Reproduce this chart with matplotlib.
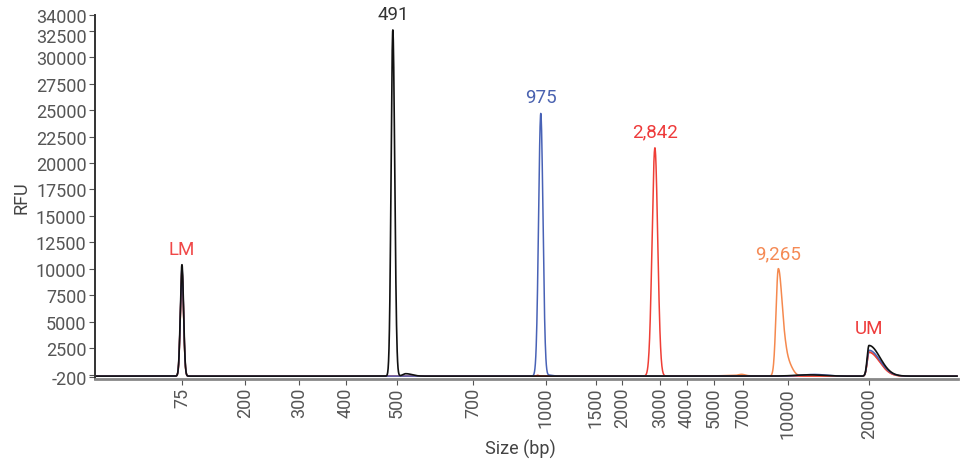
import numpy as np
import matplotlib
matplotlib.use("Agg")
import matplotlib.pyplot as plt
from matplotlib.transforms import ScaledTranslation

plt.rcParams["font.family"] = ["Roboto", "DejaVu Sans"]

# ---------------- SIZING LADDER ----------------
# ladder fragment sizes (bp) and where they migrate on the run axis
ladder_bp = [75, 200, 300, 400, 500, 700, 1000, 1500, 2000, 3000, 4000, 5000, 7000, 10000, 20000]
ladder_pos = [87, 150, 204, 251, 302, 378, 451, 501, 527, 565, 592, 619, 648, 693, 774]
run_length = 863

# ---------------- SAMPLE PEAKS ----------------
# each trace: peak size (bp), height (RFU), left / right spread on run axis
black_bp = [75, 491, 520, 12000, 20000]
black_rfu = [10400, 32600, 230, 120, 2900]
black_wl = [1.6, 1.7, 3.0, 14.0, 1.8]
black_wr = [1.6, 1.9, 6.0, 14.0, 11.0]

blue_bp = [75, 975, 1030, 12500, 20000]
blue_rfu = [10000, 24700, 90, 160, 2450]
blue_wl = [1.6, 2.2, 2.0, 12.0, 1.8]
blue_wr = [1.6, 2.2, 3.0, 12.0, 11.0]

red_bp = [75, 960, 2842, 20000]
red_rfu = [9800, 80, 21450, 2250]
red_wl = [1.6, 1.0, 2.8, 1.8]
red_wr = [1.6, 1.0, 2.8, 10.5]

orange_bp = [75, 6300, 6900, 9265, 9900, 20000]
orange_rfu = [9600, 60, 120, 9990, 1400, 2300]
orange_wl = [1.6, 14.0, 3.0, 2.3, 3.0, 1.8]
orange_wr = [1.6, 14.0, 3.0, 4.0, 5.0, 10.5]

baseline = -150

# peak labels
label_bp = [75, 491, 975, 2842, 9265, 20000]
label_rfu = [10400, 32600, 24700, 21450, 9990, 2900]
label_text = ["LM", "491", "975", "2,842", "9,265", "UM"]
label_color = ["#f04848", "#333333", "#4a62b0", "#ee3b3b", "#f58a55", "#ee3b3b"]

y_ticks = [-200, 0, 2500, 5000, 7500, 10000, 12500, 15000, 17500, 20000,
           22500, 25000, 27500, 30000, 32500, 34000]


# ---------------- HELPERS ----------------
def bp_to_pos(bp):
    return np.interp(np.log(bp), np.log(ladder_bp), ladder_pos)


def trace(x, sizes, heights, wl, wr):
    y = np.full_like(x, baseline, dtype=float)
    for s, h, a, b in zip(sizes, heights, wl, wr):
        mu = bp_to_pos(s)
        w = np.where(x < mu, a, b)
        y += (h - baseline if h > 5000 else h) * np.exp(-0.5 * ((x - mu) / w) ** 2)
    return y


# ---------------- PLOT ----------------
fig = plt.figure(figsize=(9.66, 4.64), dpi=100)
ax = fig.add_axes([0.0983, 0.182, 0.8934, 0.7835])

x = np.linspace(0, 862, 4000)

ax.plot(x, trace(x, orange_bp, orange_rfu, orange_wl, orange_wr), color="#f5894e", lw=1.1)
ax.plot(x, trace(x, red_bp, red_rfu, red_wl, red_wr), color="#ef3e36", lw=1.1)
ax.plot(x, trace(x, blue_bp, blue_rfu, blue_wl, blue_wr), color="#4862b6", lw=1.1)
ax.plot(x, trace(x, black_bp, black_rfu, black_wl, black_wr), color="#111111", lw=1.2)

for s, h, t, c in zip(label_bp, label_rfu, label_text, label_color):
    ax.annotate(t, (bp_to_pos(s), h), xytext=(0, 5), textcoords="offset points",
                ha="center", va="bottom", fontsize=13.5, color=c)

ax.set_xlim(0, run_length)
ax.set_ylim(-380, 34000)

ax.set_xticks(ladder_pos)
ax.set_xticklabels([str(b) for b in ladder_bp], rotation=90)
ax.set_yticks(y_ticks)
ax.set_yticklabels(["" if v == 0 else str(v) for v in y_ticks])

ax.tick_params(axis="both", labelsize=13, labelcolor="#555555", color="#555555",
               length=4, width=0.8, pad=2)

# nudge the crowded 32500 label down a little
for lab in ax.get_yticklabels():
    if lab.get_text() == "32500":
        lab.set_transform(lab.get_transform() + ScaledTranslation(0, -3 / 72, fig.dpi_scale_trans))

ax.set_xlabel("Size (bp)", fontsize=13, color="#444444", va="center")
ax.xaxis.set_label_coords(0.4925, -0.192)
ax.set_ylabel("RFU", fontsize=13, color="#444444", labelpad=4)

for side in ["top", "right"]:
    ax.spines[side].set_visible(False)
ax.spines["left"].set_color("#333333")
ax.spines["left"].set_linewidth(1.4)
ax.spines["bottom"].set_color("#888888")
ax.spines["bottom"].set_linewidth(2.0)

fig.savefig("out.png", dpi=100)
